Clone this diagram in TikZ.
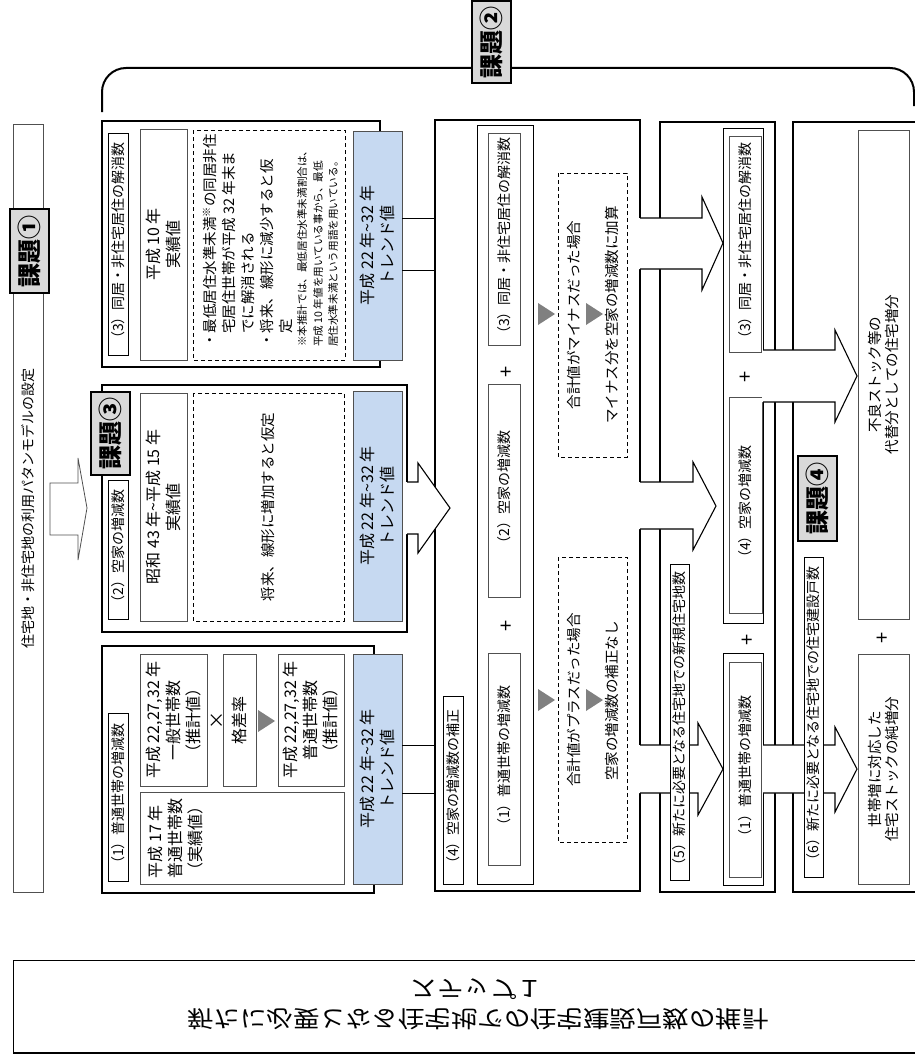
\documentclass[tikz,border=0pt]{standalone}
\usepackage{fontspec}
\setmainfont{Noto Sans CJK JP}
\usepackage{graphicx}
\definecolor{bluefill}{HTML}{C6D9F1}
\definecolor{kfill}{HTML}{D9D9D9}
\definecolor{trigray}{HTML}{808080}
\definecolor{edgegray}{HTML}{505050}
\newcommand\tld{\textasciitilde}
\newcommand\rbox[7][]{%
  \pgfmathsetmacro\rbW{#6-#4}%
  \pgfmathsetmacro\rbH{#5-#3}%
  \node[rotate=90,inner sep=0pt,outer sep=0pt,minimum width=\rbW pt,minimum height=\rbH pt,#1] (#2) at ({(#3+#5)/2},{(#4+#6)/2}) {#7};%
}
\newcommand\gtri[2]{\fill[trigray] (#1,#2-11) -- (#1+17,#2) -- (#1,#2+11) -- cycle;}
\newcommand\fatarrow[8]{%
  \fill[white] (#1-1,#2) -- (#4,#2) -- (#4,#5) -- (#7,#8) -- (#4,#6) -- (#4,#3) -- (#1-1,#3) -- cycle;
  \draw[line width=1.1pt,line join=miter] (#1,#2) -- (#4,#2) -- (#4,#5) -- (#7,#8) -- (#4,#6) -- (#4,#3) -- (#1,#3);
}
\tikzset{
  every node/.style={font=\fontsize{14}{17}\selectfont},
  outer/.style={draw=black,line width=1.1pt,fill=white},
  innerbox/.style={draw=black,line width=0.8pt,fill=white},
  gbox/.style={draw=edgegray,line width=0.8pt,fill=white},
  lbl/.style={draw=black,line width=0.8pt,fill=white},
  bluebox/.style={draw=edgegray,line width=0.8pt,fill=bluefill},
  kadai/.style={draw=black,line width=2pt,fill=kfill,font=\fontsize{24}{26}\selectfont\bfseries},
  dbox/.style={draw=black,line width=0.8pt,dash pattern=on 4pt off 3pt},
  fsixteen/.style={font=\fontsize{16}{20}\selectfont},
  ffifteen/.style={font=\fontsize{14.5}{17.5}\selectfont},
  rt/.style={rotate=90,inner sep=0pt},
  pls/.style={rotate=90,font=\fontsize{20}{20}\selectfont},
}
\begin{document}
\begin{tikzpicture}[x=1pt,y=-1pt]
\useasboundingbox (0,0) rectangle (915,1057);

% left bar and bracket
\rbox[gbox]{bar}{13}{124}{43}{892}{住宅地・非住宅地の利用パタンモデルの設定}
\draw[line width=2pt,rounded corners=24pt] (102,112) -- (102,68) -- (914,68) -- (914,106);
\rbox[kadai]{k1}{10}{209}{49}{293}{課題①}
\rbox[kadai]{k2}{472}{1}{511}{83}{課題②}

% hollow arrow
\draw[draw=edgegray,line width=0.8pt,fill=white] (50,483) -- (78,483) -- (78,458) -- (87,508) -- (78,560) -- (78,535) -- (50,535) -- cycle;

% ---------- column 1, box (3)
\rbox[outer]{c1a}{102}{121}{380}{367}{}
\rbox[lbl]{c1al}{108}{133}{128}{355}{（3）同居・非住宅居住の解消数}
\rbox[gbox,align=center,fsixteen]{c1ar}{140}{129}{187}{360}{平成 10 年\\実績値}
\rbox[dbox]{c1ad}{193}{130}{345}{360}{}
\node[rt,anchor=west,font=\fontsize{14.5}{17}\selectfont] (d1) at (210,348) {・最低居住水準未満\textsuperscript{※}の同居非住};
\node[rt,anchor=west,font=\fontsize{14.5}{17}\selectfont] (d2) at (229,334) {宅居住世帯が平成 32 年末ま};
\node[rt,anchor=west,font=\fontsize{14.5}{17}\selectfont] (d3) at (248,334) {でに解消される};
\node[rt,anchor=west,font=\fontsize{14.5}{17}\selectfont] (d4) at (267,348) {・将来、線形に減少すると仮};
\node[rt,anchor=west,font=\fontsize{14.5}{17}\selectfont] (d5) at (286,334) {定};
\node[rt,anchor=west,font=\fontsize{10.6}{12}\selectfont] (d6) at (302,347) {※本推計では、最低居住水準未満割合は、};
\node[rt,anchor=west,font=\fontsize{10.6}{12}\selectfont] (d7) at (318,347) {平成 10 年値を用いている事から、最低};
\node[rt,anchor=west,font=\fontsize{10.6}{12}\selectfont] (d8) at (333,347) {居住水準未満という用語を用いている。};
\rbox[bluebox,align=center,fsixteen]{c1at}{353}{131}{402}{360}{平成 22 年\tld 32 年\\トレンド値}

% ---------- column 1, box (2)
\rbox[outer]{c1b}{102}{385}{407}{632}{}
\rbox[lbl]{c1bl}{108}{480}{128}{619}{（2）空家の増減数}
\rbox[gbox,align=center,fsixteen]{c1br}{140}{393}{187}{621}{昭和 43 年\tld 平成 15 年\\実績値}
\rbox[dbox,ffifteen]{c1bd}{193}{393}{344}{621}{将来、線形に増加すると仮定}
\rbox[bluebox,align=center,fsixteen]{c1bt}{353}{391}{402}{621}{平成 22 年\tld 32 年\\トレンド値}
\rbox[kadai]{k3}{91}{392}{130}{475}{課題③}

% ---------- column 1, box (1)
\rbox[outer]{c1c}{102}{646}{374}{893}{}
\rbox[lbl]{c1cl}{108}{713}{128}{881}{（1）普通世帯の増減数}
\rbox[gbox,align=center,fsixteen]{c1ca}{140}{654}{207}{786}{平成 22,27,32 年\\一般世帯数\\（推計値）}
\node[rotate=90,font=\fontsize{18}{18}\selectfont] (times) at (217,720) {×};
\rbox[gbox,fsixteen]{c1cb}{223}{654}{256}{786}{格差率}
\gtri{258}{721}
\rbox[gbox,align=center,fsixteen]{c1cc}{278}{654}{344}{786}{平成 22,27,32 年\\普通世帯数\\（推計値）}
\rbox[gbox]{c1cd}{140}{792}{344}{884}{}
\node[rt,align=left,fsixteen] (c1cdt) at (176,838) {平成 17 年\\普通世帯数\\（実績値）};
\rbox[bluebox,align=center,fsixteen]{c1ct}{353}{654}{402}{884}{平成 22 年\tld 32 年\\トレンド値}

% ---------- column 2
\rbox[outer]{c2}{435}{120}{640}{891}{}
\rbox[lbl]{c2l}{443}{696}{463}{884}{（4）空家の増減数の補正}
\rbox[innerbox]{c2in}{477}{125}{533}{884}{}
\rbox[gbox]{c2s3}{488}{133}{520}{345}{（3）同居・非住宅居住の解消数}
\node[pls] (p1) at (507,372) {+};
\rbox[gbox]{c2s2}{488}{384}{520}{597}{（2）空家の増減数}
\node[pls] (p2) at (507,626) {+};
\rbox[gbox]{c2s1}{488}{653}{520}{865}{（1）普通世帯の増減数}
\rbox[dbox]{c2d1}{558}{173}{627}{457}{}
\node[rt,ffifteen] (m1) at (574,315) {合計値がマイナスだった場合};
\node[rt,ffifteen] (m2) at (612,315) {マイナス分を空家の増減数に加算};
\gtri{538}{314}
\gtri{586}{314}
\rbox[dbox]{c2d2}{558}{557}{627}{842}{}
\node[rt,ffifteen] (q1) at (574,700) {合計値がプラスだった場合};
\node[rt,ffifteen] (q2) at (612,701) {空家の増減数の補正なし};
\gtri{538}{700}
\gtri{586}{700}

% pipes from column 1 to column 2
\draw[line width=1pt] (c1at.south |- 0,218) -- (c2.north |- 0,218);
\draw[line width=1pt] (c1at.south |- 0,270) -- (c2.north |- 0,270);
\draw[line width=1pt] (c1ct.south |- 0,745) -- (c2.north |- 0,745);
\draw[line width=1pt] (c1ct.south |- 0,793) -- (c2.north |- 0,793);

% ---------- column 3
\rbox[outer]{c3}{660}{122}{775}{892}{}
\rbox[innerbox]{c3top}{723}{128}{763}{623}{}
\rbox[gbox]{c3s3}{729}{136}{761}{352}{（3）同居・非住宅居住の解消数}
\node[pls] (p3) at (746,377) {+};
\rbox[gbox]{c3s4}{729}{397}{762}{613}{（4）空家の増減数}
\node[pls] (p4) at (748,640) {+};
\rbox[innerbox]{c3bot}{723}{653}{763}{885}{}
\rbox[gbox]{c3s1}{729}{662}{761}{877}{（1）普通世帯の増減数}

% ---------- column 4
\rbox[outer]{c4}{793}{122}{935}{892}{}
\rbox[gbox,align=center,ffifteen]{c4top}{858}{130}{909}{619}{不良ストック等の\\代替分としての住宅増分}
\node[pls] (p5) at (883,638) {+};
\rbox[gbox,align=center,ffifteen]{c4bot}{858}{654}{909}{884}{世帯増に対応した\\住宅ストックの純増分}
\rbox[kadai]{k4}{798}{456}{837}{541}{課題④}

% ---------- fat arrows
\fatarrow{407}{482}{534}{418}{463}{553}{450}{508}
\fatarrow{640}{218}{269}{702}{197}{290}{723}{243}
\fatarrow{640}{482}{529}{693}{462}{550}{716}{506}
\fatarrow{640}{745}{793}{698}{723}{815}{723}{769}
\fatarrow{763}{350}{402}{835}{330}{422}{857}{376}
\fatarrow{763}{745}{793}{835}{727}{812}{857}{769}

% labels on top of arrows
\rbox[lbl]{c3l}{670}{564}{689}{880}{（5）新たに必要となる住宅地での新規住宅地数}
\rbox[lbl]{c4l}{804}{557}{823}{877}{（6）新たに必要となる住宅地での住宅建設戸数}

% ---------- bottom step box
\node[draw=black,line width=1pt,minimum width=910pt,minimum height=92pt,inner sep=0pt,anchor=north west] (step) at (13,960) {};
\draw[line width=2.5pt] (step.south west) -- (step.south east);
\node (st1) at (477,989) {\scalebox{1.15}[-1]{\fontsize{23}{23}\selectfont ステップ１}};
\node (st2) at (478,1019) {\scalebox{1.15}[-1]{\fontsize{23}{23}\selectfont 新たに必要となる住宅地での住宅建設戸数の推計}};
\end{tikzpicture}
\end{document}
